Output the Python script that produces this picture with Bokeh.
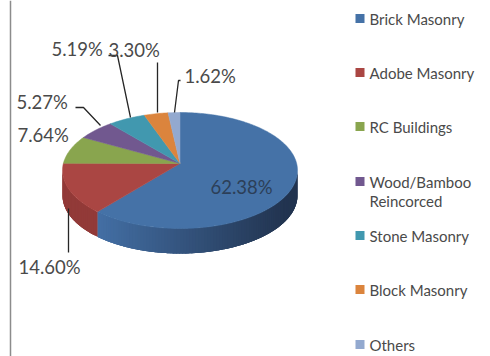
from math import sin, cos, radians

import numpy as np
from bokeh.core.properties import value
from bokeh.embed import file_html
from bokeh.models import ColumnDataSource
from bokeh.plotting import figure
from bokeh.resources import INLINE

# Building stock shares, in percent, clockwise from twelve o'clock
categories = ["Brick Masonry", "Adobe Masonry", "RC Buildings", "Wood/Bamboo\nReincorced",
              "Stone Masonry", "Block Masonry", "Others"]
shares = [62.38, 14.60, 7.64, 5.27, 5.19, 3.30, 1.62]
colors = ["#4572A7", "#AA4643", "#89A54E", "#71588F", "#4198AF", "#DB843D", "#93A9CF"]
side_light = {"#4572A7": (68, 112, 166), "#AA4643": (146, 58, 56)}
side_dark = {"#4572A7": (34, 52, 80), "#AA4643": (132, 52, 50)}

# Pie layout on the page, in pixels
CX, CY, RX, RY = 179.5, 170.0, 117.5, 58.0
PIVOT_Y = 163.0
DEPTH = 25.0
FONT = "Lato"

p = figure(width=490, height=356, x_range=(0, 490), y_range=(356, 0),
           output_backend="svg", toolbar_location=None, min_border=0,
           outline_line_color=None, background_fill_color="white")
p.axis.visible = False
p.grid.visible = False


def rim(turn_deg):
    a = np.radians(turn_deg)
    return CX + RX * np.sin(a), CY - RY * np.cos(a)


# Frame line at the left of the chart
p.line(x=[10, 10], y=[0, 356], line_color="#8c8c8c", line_width=1.5)

# Slice boundaries in degrees
edges = np.concatenate([[0], np.cumsum(shares)]) * 3.6

# Front wall of the disc, shaded in strips that each run a little under the next one
wall_x, wall_y, wall_c = [], [], []
for i, color in enumerate(colors[:2]):
    start = max(edges[i], 90.0)
    stop = min(edges[i + 1], 270.0)
    steps = np.arange(start, stop, 1.5)
    for a0 in steps:
        arc = np.linspace(a0, min(a0 + 5.0, stop), 5)
        ax, ay = rim(arc)
        t = float(np.clip((ax[0] - (CX - RX * 0.72)) / (RX * 1.62), 0, 1))
        lo, hi = side_light[color], side_dark[color]
        rgb = [int(round(lo[k] + (hi[k] - lo[k]) * t)) for k in range(3)]
        wall_x.append(list(ax) + list(ax[::-1]))
        wall_y.append(list(ay) + list(ay[::-1] + DEPTH))
        wall_c.append("#%02x%02x%02x" % tuple(rgb))
p.patches(xs="x", ys="y", fill_color="c", line_color=None,
          source=ColumnDataSource(dict(x=wall_x, y=wall_y, c=wall_c)))

# Top face
face_x, face_y = [], []
for a0, a1 in zip(edges[:-1], edges[1:]):
    arc = np.linspace(a0, a1, max(3, int(a1 - a0) + 2))
    ax, ay = rim(arc)
    face_x.append([CX] + list(ax))
    face_y.append([PIVOT_Y] + list(ay))
p.patches(xs="x", ys="y", fill_color="c", line_color="c", line_width=0.5,
          source=ColumnDataSource(dict(x=face_x, y=face_y, c=colors)))

# Leader lines, in the same order as the slices after the first
leader_x = [[68, 68], [75, 83, 100], [108, 117, 130], [157, 157], [180, 178, 174]]
leader_y = [[208, 252], [107, 107, 125], [55, 55, 117], [62, 112], [80, 80, 112]]
p.multi_line(xs=leader_x, ys=leader_y, line_color="#262626", line_width=1.3)

# Percentage labels
labels = ["%.2f%%" % s for s in shares]
label_x = [210, 18, 17, 16, 51, 108, 184]
label_y = [186, 266, 134, 101, 48, 49, 75]
label_c = ["#2c3f58"] + ["#4a4a4a"] * 6
p.text(x=label_x, y=label_y, text=labels, text_color=label_c, text_font=value(FONT),
       text_font_size="18.5px", text_align="left", text_baseline="middle")

# Legend
legend_y = [18, 72, 126, 181, 235, 289, 344]
p.rect(x=[359.5] * 7, y=legend_y, width=9, height=9, fill_color=colors, line_color=None)
text_y = list(legend_y)
names = list(categories)
names[3] = "Wood/Bamboo"
names.append("Reincorced")
text_y.append(200)
p.text(x=[369] * 8, y=text_y, text=names, text_color="#4a4a4a", text_font=value(FONT),
       text_font_size="15px", text_align="left", text_baseline="middle")

open("out.html", "w").write(file_html(p, INLINE))
